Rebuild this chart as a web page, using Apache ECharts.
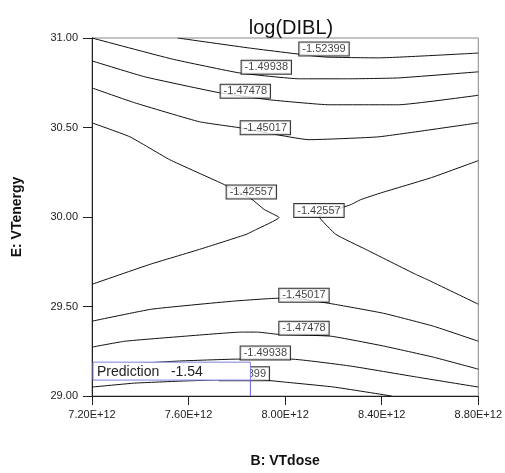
<!DOCTYPE html>
<html><head><meta charset="utf-8">
<script src="https://cdn.jsdelivr.net/npm/echarts@6/dist/echarts.min.js"></script>
<style>html,body{margin:0;padding:0;background:#fff}#c{width:505px;height:473px}</style>
</head><body><div id="c"></div>
<script>
// x values are in units of 1E+12 (B: VTdose), y values are E: VTenergy
const xRange = [7.2, 8.8];
const yRange = [29.0, 31.0];

// contour lines
const c152Top = [[7.555,31.0],[7.852,30.944],[8.161,30.894],[8.388,30.889],[8.8,30.916]];
const c150Top = [[7.2,31.0],[7.530,30.883],[7.810,30.805],[8.058,30.772],[8.264,30.772],[8.470,30.777],[8.8,30.811]];
const c147Top = [[7.2,30.872],[7.419,30.783],[7.728,30.694],[7.934,30.655],[8.181,30.627],[8.470,30.627],[8.8,30.680]];
const c145Top = [[7.2,30.721],[7.377,30.638],[7.645,30.532],[7.810,30.499],[8.099,30.432],[8.388,30.448],[8.8,30.526]];
const c143Left = [[7.2,30.526],[7.357,30.448],[7.522,30.320],[7.748,30.181],[7.864,30.097],[7.913,30.042],[7.975,29.997],[7.880,29.930],[7.839,29.903],[7.645,29.819],[7.439,29.735],[7.2,29.624]];
const c143Right = [[8.8,30.315],[8.606,30.220],[8.400,30.136],[8.313,30.097],[8.272,30.069],[8.140,30.003],[8.210,29.903],[8.334,29.819],[8.540,29.680],[8.586,29.652],[8.8,29.513]];
const c145Bot = [[7.2,29.418],[7.447,29.485],[7.777,29.529],[7.967,29.546],[8.078,29.540],[8.202,29.513],[8.408,29.462],[8.614,29.390],[8.8,29.306]];
const c147Bot = [[7.2,29.273],[7.336,29.306],[7.584,29.334],[7.819,29.357],[7.885,29.357],[7.967,29.345],[8.190,29.334],[8.408,29.279],[8.614,29.217],[8.8,29.150]];
const c150Bot = [[7.2,29.167],[7.555,29.195],[7.802,29.206],[8.025,29.206],[8.272,29.167],[8.544,29.106],[8.8,29.050]];
const c152Bot = [[7.2,29.050],[7.377,29.072],[7.584,29.084],[7.860,29.095],[7.996,29.078],[8.202,29.050],[8.441,29.0]];

// contour labels: [x, y, text]
const contourLabels = [
  [8.161,30.939,'-1.52399'],
  [7.922,30.836,'-1.49938'],
  [7.835,30.702,'-1.47478'],
  [7.918,30.499,'-1.45017'],
  [7.860,30.139,'-1.42557'],
  [8.140,30.036,'-1.42557'],
  [8.078,29.563,'-1.45017'],
  [8.078,29.379,'-1.47478'],
  [7.918,29.240,'-1.49938'],
  [7.831,29.125,'-1.52399']
];

// prediction flag: [xLeft, yTop, xPoint, yBottom, value]
const prediction = [[7.2, 29.189, 7.856, 29.089, -1.54]];

const FONT = 'Liberation Sans, Arial, sans-serif';
const contours = [c152Top,c150Top,c147Top,c145Top,c143Left,c143Right,c145Bot,c147Bot,c150Bot,c152Bot];

const series = contours.map(d => ({
  type:'line', data:d, showSymbol:false, symbol:'none', smooth:0.12, silent:true, z:2,
  lineStyle:{color:'#111', width:1}
}));
series.push({
  type:'scatter', data:contourLabels, symbolSize:1, z:3, silent:true,
  itemStyle:{color:'transparent'},
  label:{show:true, position:'inside', formatter:p=>p.value[2], fontSize:11, fontFamily:FONT, color:'#111',
    backgroundColor:'#fff', borderColor:'#000', borderWidth:1, padding:[1,3,1,3], lineHeight:11}
});
series.push({
  type:'custom', data:prediction, z:10, silent:true, clip:false,
  renderItem:(params, api) => {
    const p1 = api.coord([api.value(0), api.value(1)]);
    const p2 = api.coord([api.value(2), api.value(3)]);
    const base = api.coord([api.value(2), yRange[0]]);
    return {type:'group', children:[
      {type:'rect', shape:{x:p1[0]+1, y:p1[1], width:p2[0]-p1[0]-1, height:p2[1]-p1[1]},
        style:{fill:'#fff', stroke:'#8080e0', lineWidth:1}},
      {type:'line', shape:{x1:p2[0], y1:p2[1], x2:base[0], y2:base[1]},
        style:{stroke:'#6060e0', lineWidth:1}},
      {type:'text', style:{x:p1[0]+5, y:(p1[1]+p2[1])/2+1, text:'Prediction   ' + api.value(4).toFixed(2),
        fill:'#222', fontSize:14, fontFamily:FONT, verticalAlign:'middle', align:'left'}}
    ]};
  }
});

const chart = echarts.init(document.getElementById('c'), null, {renderer:'canvas'});
chart.setOption({
  animation:false,
  backgroundColor:'#fff',
  title:{text:'log(DIBL)', left:286, top:13, textAlign:'center',
    textStyle:{fontFamily:FONT, fontSize:20, fontWeight:'normal', color:'#111'}},
  grid:{left:92, right:25, top:38, bottom:76, show:true, borderColor:'#888', borderWidth:1},
  xAxis:{type:'value', min:xRange[0], max:xRange[1], interval:0.4,
    name:'B: VTdose', nameLocation:'middle', nameGap:58,
    nameTextStyle:{fontFamily:FONT, fontSize:14, fontWeight:'bold', color:'#111'},
    axisLine:{show:true, onZero:false, lineStyle:{color:'#222', width:1}},
    axisTick:{show:true, length:9, lineStyle:{color:'#222'}},
    axisLabel:{margin:13, fontFamily:FONT, fontSize:11, color:'#222', formatter:v=>v.toFixed(2)+'E+12'},
    splitLine:{show:false}},
  yAxis:{type:'value', min:yRange[0], max:yRange[1], interval:0.5,
    name:'E: VTenergy', nameLocation:'middle', nameGap:68, nameRotate:90,
    nameTextStyle:{fontFamily:FONT, fontSize:14, fontWeight:'bold', color:'#111'},
    axisLine:{show:true, onZero:false, lineStyle:{color:'#222', width:1}},
    axisTick:{show:true, length:9, lineStyle:{color:'#222'}},
    axisLabel:{margin:14, fontFamily:FONT, fontSize:11, color:'#222', formatter:v=>v.toFixed(2)},
    splitLine:{show:false}},
  series:series
});
</script></body></html>
